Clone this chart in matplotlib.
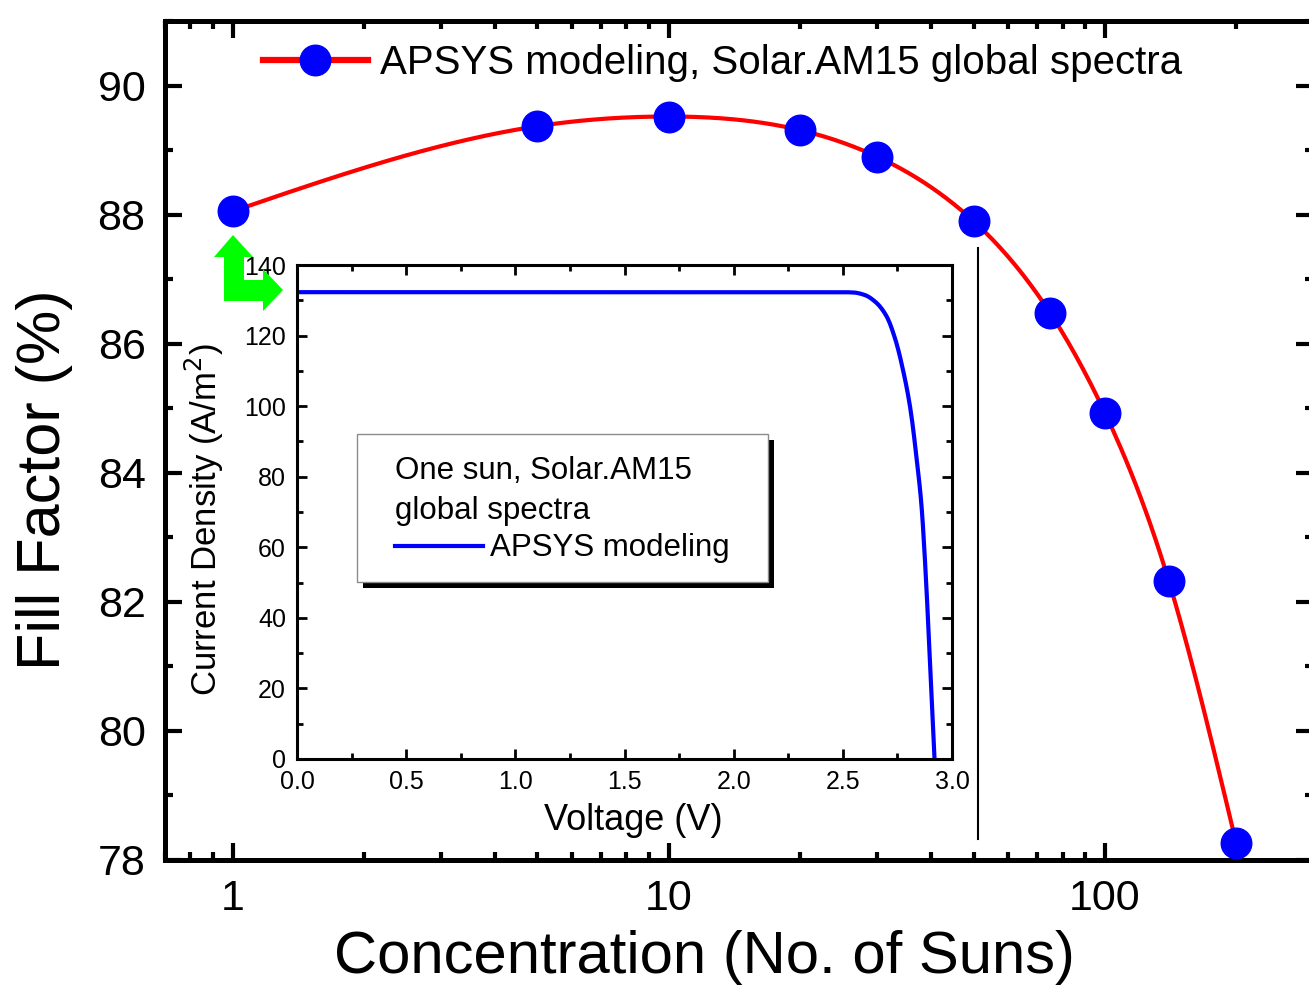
import numpy as np
import matplotlib
matplotlib.use("Agg")
import matplotlib.pyplot as plt
from matplotlib.patches import Polygon, Rectangle
from matplotlib.lines import Line2D
from matplotlib.ticker import LogLocator, NullFormatter, MultipleLocator

plt.rcParams['font.family'] = ['Liberation Sans', 'DejaVu Sans']

# fill factor vs. concentration
suns = [1, 5, 10, 20, 30, 50, 75, 100, 140, 200]
fill_factor = [88.05, 89.37, 89.52, 89.31, 88.90, 87.90, 86.47, 84.93, 82.33, 78.26]

# one-sun J-V curve (inset)
voltage = [0.0, 0.5, 1.0, 1.5, 2.0, 2.5, 2.55, 2.60, 2.65, 2.70, 2.74,
           2.78, 2.81, 2.84, 2.86, 2.88, 2.90, 2.92]
current = [132.3, 132.3, 132.3, 132.3, 132.3, 132.3, 132.2, 131.5, 129.5,
           125.5, 119.0, 109.0, 99.0, 84.0, 72.0, 52.0, 26.0, 0.0]


def natural_spline(x, y, xs):
    x = np.asarray(x, float)
    y = np.asarray(y, float)
    n = len(x)
    h = np.diff(x)
    A = np.zeros((n, n))
    r = np.zeros(n)
    A[0, 0] = A[-1, -1] = 1
    for i in range(1, n - 1):
        A[i, i - 1] = h[i - 1]
        A[i, i] = 2 * (h[i - 1] + h[i])
        A[i, i + 1] = h[i]
        r[i] = 3 * ((y[i + 1] - y[i]) / h[i] - (y[i] - y[i - 1]) / h[i - 1])
    c = np.linalg.solve(A, r)
    b = (y[1:] - y[:-1]) / h - h * (2 * c[:-1] + c[1:]) / 3
    d = (c[1:] - c[:-1]) / (3 * h)
    idx = np.clip(np.searchsorted(x, xs) - 1, 0, n - 2)
    dx = xs - x[idx]
    return y[idx] + b[idx] * dx + c[idx] * dx ** 2 + d[idx] * dx ** 3


def pchip(x, y, xs):
    # monotone cubic (Fritsch-Carlson), keeps the flat part flat
    x = np.asarray(x, float)
    y = np.asarray(y, float)
    h = np.diff(x)
    delta = np.diff(y) / h
    m = np.zeros(len(x))
    m[0], m[-1] = delta[0], delta[-1]
    for i in range(1, len(x) - 1):
        if delta[i - 1] * delta[i] > 0:
            w1 = 2 * h[i] + h[i - 1]
            w2 = h[i] + 2 * h[i - 1]
            m[i] = (w1 + w2) / (w1 / delta[i - 1] + w2 / delta[i])
    idx = np.clip(np.searchsorted(x, xs) - 1, 0, len(x) - 2)
    t = (xs - x[idx]) / h[idx]
    h00 = 2 * t ** 3 - 3 * t ** 2 + 1
    h10 = t ** 3 - 2 * t ** 2 + t
    h01 = -2 * t ** 3 + 3 * t ** 2
    h11 = t ** 3 - t ** 2
    return (h00 * y[idx] + h10 * h[idx] * m[idx] + h01 * y[idx + 1]
            + h11 * h[idx] * m[idx + 1])


W, H = 1309, 990
fig = plt.figure(figsize=(W / 100, H / 100), dpi=100)


def px(x0, y0, x1, y1):
    # pixel box (top-left origin) -> figure fraction rect
    return [x0 / W, 1 - y1 / H, (x1 - x0) / W, (y1 - y0) / H]


ax = fig.add_axes(px(165, 21, 1313, 860))
lx = np.log10(suns)
xs = np.linspace(lx[0], lx[-1], 400)
ax.plot(10 ** xs, natural_spline(lx, fill_factor, xs), color='red', lw=3, zorder=2)
ax.plot(suns, fill_factor, 'o', color='blue', ms=22, zorder=3)
ax.plot([], [], '-o', color='red', mfc='blue', mec='blue', ms=22, lw=4.5,
        label='APSYS modeling, Solar.AM15 global spectra')

ax.set_xscale('log')
ax.set_xlim(0.7, 300)
ax.set_ylim(78, 91)
ax.set_xticks([1, 10, 100])
ax.set_xticklabels(['1', '10', '100'])
ax.xaxis.set_minor_locator(LogLocator(base=10, subs=np.arange(2, 10)))
ax.xaxis.set_minor_formatter(NullFormatter())
ax.set_yticks(np.arange(78, 91, 2))
ax.yaxis.set_minor_locator(MultipleLocator(1))
ax.tick_params(which='both', direction='in', top=True, right=True, width=3)
ax.tick_params(which='major', length=12, labelsize=31, pad=14)
ax.tick_params(which='minor', length=6)
for s in ax.spines.values():
    s.set_linewidth(3.6)
ax.set_xlabel('Concentration (No. of Suns)', fontsize=43)
ax.set_ylabel('Fill Factor (%)', fontsize=44)
ax.xaxis.set_label_coords(0.4695, -0.083)
ax.yaxis.set_label_coords(-0.080, 0.453)

leg = ax.legend(loc='center left', bbox_to_anchor=(263 / W, 1 - 63 / H),
                bbox_transform=fig.transFigure, frameon=False, fontsize=29,
                handlelength=2.6, handletextpad=0.3, borderpad=0,
                borderaxespad=0, numpoints=1)

# inset: J-V at one sun
axi = fig.add_axes(px(297, 265, 952, 759))
vs = np.linspace(voltage[0], voltage[-1], 600)
axi.plot(vs, pchip(voltage, current, vs), color='blue', lw=3)
axi.set_xlim(0, 3.0)
axi.set_ylim(0, 140)
axi.xaxis.set_major_locator(MultipleLocator(0.5))
axi.xaxis.set_minor_locator(MultipleLocator(0.25))
axi.yaxis.set_major_locator(MultipleLocator(20))
axi.yaxis.set_minor_locator(MultipleLocator(10))
axi.set_xticks(np.arange(0, 3.01, 0.5))
axi.set_xticklabels(['0.0', '0.5', '1.0', '1.5', '2.0', '2.5', '3.0'])
axi.tick_params(which='both', direction='in', top=True, right=True, width=2)
axi.tick_params(which='major', length=7, labelsize=18, pad=8)
axi.tick_params(which='minor', length=4)
for s in axi.spines.values():
    s.set_linewidth(2.2)
axi.set_xlabel('Voltage (V)', fontsize=26)
axi.set_ylabel('Current Density (A/m$^2$)', fontsize=25)
axi.xaxis.set_label_coords(0.513, -0.089)
axi.yaxis.set_label_coords(-0.108, 0.484)

# inset legend box with drop shadow
fig.patches.append(Rectangle((363 / W, 1 - 588 / H), (768 - 357) / W, (582 - 434) / H,
                             transform=fig.transFigure, facecolor='black',
                             edgecolor='none', zorder=5))
fig.patches.append(Rectangle((357 / W, 1 - 582 / H), (768 - 357) / W, (582 - 434) / H,
                             transform=fig.transFigure, facecolor='white',
                             edgecolor='0.55', lw=1, zorder=6))
ileg = fig.legend(handles=[Line2D([], [], color='blue', lw=3)], labels=['APSYS modeling'],
                  title='One sun, Solar.AM15\nglobal spectra', alignment='left',
                  loc='upper left', bbox_to_anchor=(395 / W, 1 - 456 / H),
                  frameon=False, fontsize=22.5, title_fontsize=22.5,
                  handlelength=2.8, handletextpad=0.23, borderpad=0,
                  borderaxespad=0, labelspacing=0.25)
ileg.get_title().set_linespacing(1.42)
ileg.set_zorder(7)

# green corner arrow pointing at the one-sun point
arrow = [(224, 301), (224, 257), (214, 257), (233, 235), (253, 257), (244, 257),
         (244, 280), (263, 280), (263, 269), (283, 290), (263, 311), (263, 301)]
fig.patches.append(Polygon([(x / W, 1 - y / H) for x, y in arrow], closed=True,
                           transform=fig.transFigure, facecolor='#00ff00',
                           edgecolor='none', zorder=8))

fig.lines.append(Line2D([977.5 / W, 977.5 / W], [1 - 248 / H, 1 - 839 / H],
                        transform=fig.transFigure, color='black', lw=1.5))

fig.savefig('out.png', dpi=100)
